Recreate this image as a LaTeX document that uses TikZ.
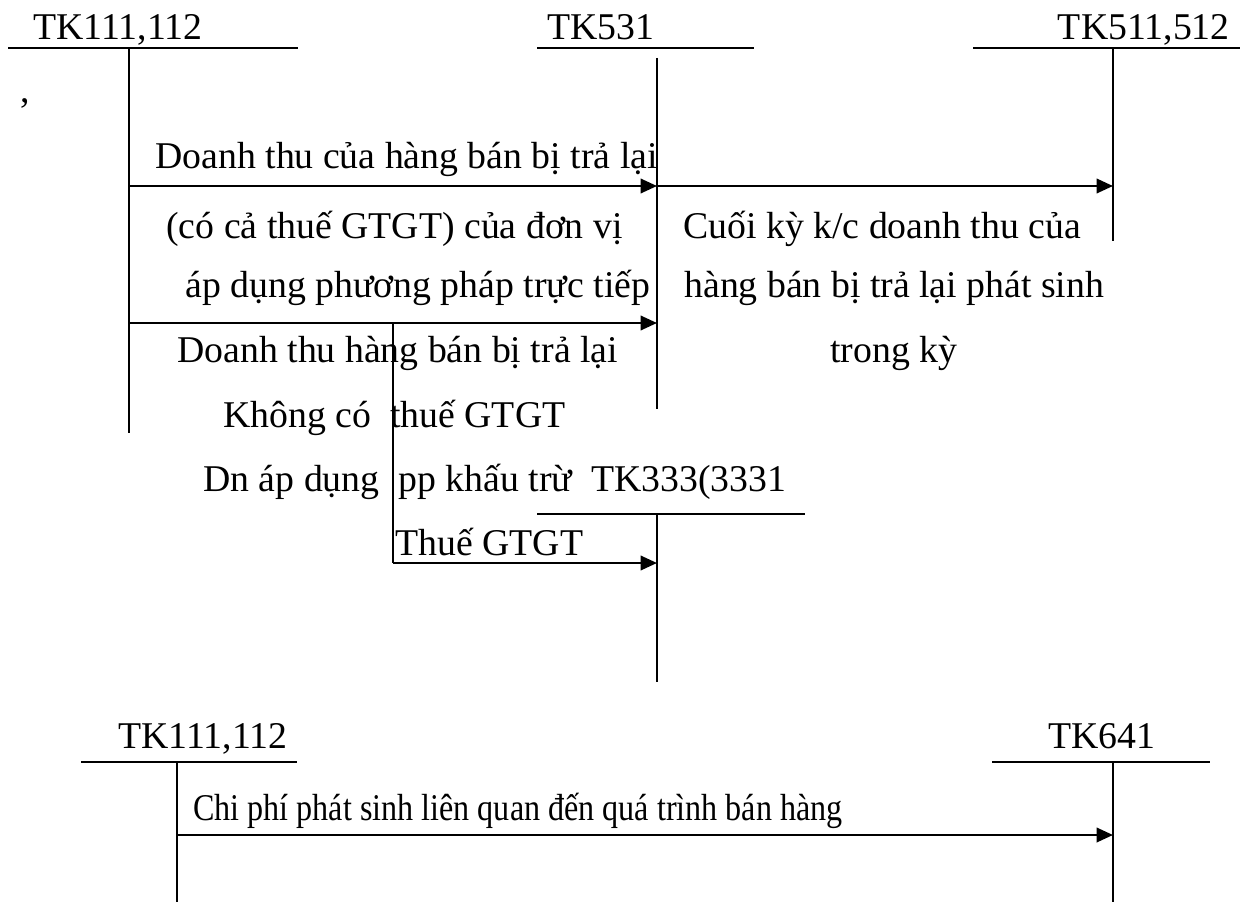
\documentclass[tikz,border=0pt]{standalone}
\usepackage{fontspec}
\setmainfont{Liberation Serif}
\usetikzlibrary{arrows.meta}
\begin{document}
\begin{tikzpicture}[x=0.02cm,y=-0.02cm,
  acc/.style={line width=1.1pt},
  flow/.style={line width=1.4pt,-{Triangle[length=0.33cm,width=0.29cm]}},
  plain/.style={line width=1.4pt},
  txt/.style={inner sep=0pt,anchor=base west,font=\fontsize{21.5pt}{25pt}\selectfont},
  txte/.style={txt,anchor=base east}]
\useasboundingbox (0,0) rectangle (1240,902);

% ---- T-account TK111,112 (top)
\node[txt] (tA) at (33,40) {TK111,112};
\coordinate (aL) at (8,48); \coordinate (aR) at (298,48);
\coordinate (aT) at (129,48); \coordinate (aB) at (129,433);
\draw[acc] (aL) -- (aR);
\draw[acc] (aT) -- (aB);
\node[txt] (comma) at (20,103) {,};

% ---- T-account TK531
\node[txt] (tB) at (547,40) {TK531};
\coordinate (bL) at (537,48); \coordinate (bR) at (754,48);
\coordinate (bT) at (657,58); \coordinate (bB) at (657,409);
\draw[acc] (bL) -- (bR);
\draw[acc] (bT) -- (bB);

% ---- T-account TK511,512
\node[txte] (tC) at (1230,40) {TK511,512};
\coordinate (cL) at (973,48); \coordinate (cR) at (1240,48);
\coordinate (cT) at (1113,48); \coordinate (cB) at (1113,241);
\draw[acc] (cL) -- (cR);
\draw[acc] (cT) -- (cB);

% ---- T-account TK333(3331
\coordinate (dL) at (537,514); \coordinate (dR) at (805,514);
\coordinate (dT) at (657,514); \coordinate (dB) at (657,682);
\draw[acc] (dL) -- (dR);
\draw[acc] (dT) -- (dB);

% ---- flows
\coordinate (a1) at (129,186); \coordinate (b1) at (657,186); \coordinate (c1) at (1113,186);
\coordinate (a2) at (129,323); \coordinate (b2) at (657,323);
\coordinate (v1) at (393,323); \coordinate (v2) at (393,563); \coordinate (d1) at (657,563);
\draw[flow] (a1) -- (b1);
\draw[flow] (b1) -- (c1);
\draw[flow] (a2) -- (b2);
\draw[plain] (v1) -- (v2);
\draw[flow] (v2) -- (d1);

% ---- labels
\node[txt] (l1) at (155,169) {Doanh thu của hàng bán bị trả lại};
\node[txt] (l2) at (166,238) {(có cả thuế GTGT) của đơn vị};
\node[txt] (l3) at (185,297) {áp dụng phương pháp trực tiếp};
\node[txt] (l4) at (177,362) {Doanh thu hàng bán bị trả lại};
\node[txt] (l5) at (223,427) {Không có\ \ thuế GTGT};
\node[txt] (l6) at (203,491) {Dn áp dụng\ \ pp khấu trừ\ \ TK333(3331};
\node[txt] (l7) at (395,555) {Thuế GTGT};
\node[txt] (r1) at (683,238) {Cuối kỳ k/c doanh thu của};
\node[txt] (r2) at (684,297) {hàng bán bị trả lại phát sinh};
\node[txt] (r3) at (830,362) {trong kỳ};

% ---- bottom diagram
\node[txt] (tE) at (118,748) {TK111,112};
\coordinate (eL) at (81,762); \coordinate (eR) at (297,762);
\coordinate (eT) at (177,762); \coordinate (eB) at (177,902);
\draw[acc] (eL) -- (eR);
\draw[acc] (eT) -- (eB);

\node[txt] (tF) at (1048,748) {TK641};
\coordinate (fL) at (992,762); \coordinate (fR) at (1210,762);
\coordinate (fT) at (1113,762); \coordinate (fB) at (1113,902);
\draw[acc] (fL) -- (fR);
\draw[acc] (fT) -- (fB);

\coordinate (e1) at (177,835); \coordinate (f1) at (1113,835);
\draw[flow] (e1) -- (f1);
\node[txt] (l8) at (193,820) {\scalebox{0.85}[1]{Chi phí phát sinh liên quan đến quá trình bán hàng}};
\end{tikzpicture}
\end{document}
